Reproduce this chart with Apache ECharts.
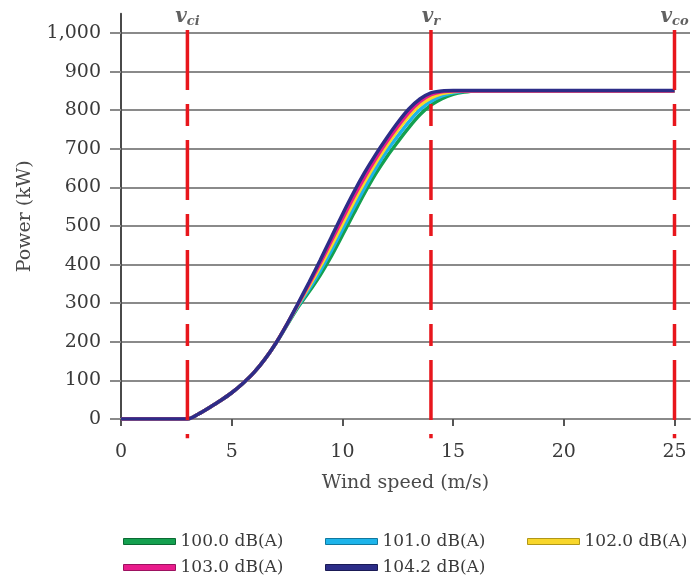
<!DOCTYPE html>
<html>
<head>
<meta charset="utf-8">
<title>Power curve</title>
<script src="https://cdn.jsdelivr.net/npm/echarts@6/dist/echarts.min.js"></script>
<style>
  html, body { margin: 0; padding: 0; background: #ffffff; }
  #powerChart { width: 694px; height: 579px; }
</style>
</head>
<body>
<div id="powerChart"></div>
<script>
/*** data ***/
var windSpeed = [0, 1, 2, 3, 3.5, 4, 4.5, 5, 5.5, 6, 6.5, 7, 7.5, 8, 8.5, 9, 9.5, 10, 10.5, 11, 11.5, 12, 12.5, 13, 13.5, 14, 14.5, 15, 15.5, 16, 17, 18, 19, 20, 21, 22, 23, 24, 25];

var power1000 = [0, 0, 0, 0, 13, 30, 48, 68, 92, 120, 155, 196, 243, 290, 330, 373, 422, 476, 531, 585, 635, 679, 718, 755, 788, 813, 830, 841, 847, 850, 850, 850, 850, 850, 850, 850, 850, 850, 850];
var power1010 = [0, 0, 0, 0, 13, 30, 48, 68, 92, 120, 155, 197, 245, 293, 337, 384, 436, 491, 546, 599, 649, 694, 733, 770, 801, 823, 837, 845, 849, 850, 850, 850, 850, 850, 850, 850, 850, 850, 850];
var power1020 = [0, 0, 0, 0, 13, 30, 48, 68, 92, 120, 155, 197, 246, 296, 344, 395, 449, 505, 561, 614, 663, 708, 748, 784, 813, 832, 843, 848, 850, 850, 850, 850, 850, 850, 850, 850, 850, 850, 850];
var power1030 = [0, 0, 0, 0, 13, 30, 48, 68, 92, 120, 155, 197, 246, 298, 350, 404, 461, 518, 574, 626, 674, 718, 758, 794, 822, 840, 848, 850, 850, 850, 850, 850, 850, 850, 850, 850, 850, 850, 850];
var power1042 = [0, 0, 0, 0, 13, 30, 48, 68, 92, 120, 155, 197, 246, 300, 355, 412, 471, 530, 586, 638, 685, 728, 768, 803, 829, 845, 850, 851, 851, 851, 851, 851, 851, 851, 851, 851, 851, 851, 851];

var seriesNames = ['100.0 dB(A)', '101.0 dB(A)', '102.0 dB(A)', '103.0 dB(A)', '104.2 dB(A)'];
var seriesValues = [power1000, power1010, power1020, power1030, power1042];

var xTicks = [0, 5, 10, 15, 20, 25];
var yTicks = [0, 100, 200, 300, 400, 500, 600, 700, 800, 900, 1000];
var yTickLabels = ['0', '100', '200', '300', '400', '500', '600', '700', '800', '900', '1,000'];

// cut-in, rated, cut-out speeds
var markSpeeds = [3, 14, 25];
var markSubs = ['ci', 'r', 'co'];

/*** styles ***/
var lineColors = ['#14a04f', '#1db4ea', '#f8d62a', '#e91c8c', '#2c2d88'];
var borderColors = ['#0b6a33', '#11789e', '#b09618', '#9d1260', '#1a1a55'];
var legendPos = [[123, 533], [325, 533], [527, 533], [123, 559], [325, 559]];
var serif = 'DejaVu Serif';

var myChart = echarts.init(document.getElementById('powerChart'), null, {renderer: 'canvas'});

function pairs(xs, ys) {
  var out = [];
  for (var i = 0; i < xs.length; i++) {
    out.push([xs[i], ys[i]]);
  }
  return out;
}

var series = [];
for (var i = 0; i < seriesNames.length; i++) {
  series.push({
    name: seriesNames[i],
    type: 'line',
    data: pairs(windSpeed, seriesValues[i]),
    showSymbol: false,
    symbol: 'none',
    smooth: 0.3,
    z: 2 + i,
    lineStyle: {color: lineColors[i], width: 3.5},
    itemStyle: {color: lineColors[i]}
  });
}

// red dashed verticals, drawn past the x axis
for (var k = 0; k < markSpeeds.length; k++) {
  series.push({
    name: 'mark' + k,
    type: 'line',
    data: [[markSpeeds[k], 1008], [markSpeeds[k], -50]],
    symbol: 'none',
    clip: false,
    silent: true,
    z: 10,
    lineStyle: {color: '#e8161c', width: 3.5, type: [60, 14, 22, 14]}
  });
}

// v labels above the lines
series.push({
  name: 'labels',
  type: 'scatter',
  symbolSize: 0,
  silent: true,
  clip: false,
  z: 11,
  data: markSpeeds.map(function (s, idx) { return {value: [s, 1041], sub: markSubs[idx]}; }),
  label: {
    show: true,
    position: 'inside',
    formatter: function (p) { return '{v|v}{s|' + p.data.sub + '}'; },
    rich: {
      v: {fontFamily: serif, fontStyle: 'italic', fontWeight: 'bold', fontSize: 20, color: '#3a3a3a', height: 24, verticalAlign: 'middle'},
      s: {fontFamily: serif, fontStyle: 'italic', fontWeight: 'bold', fontSize: 13, color: '#3a3a3a', height: 24, verticalAlign: 'bottom', padding: [8, 0, 0, 0]}
    }
  }
});

var legends = [];
for (var j = 0; j < seriesNames.length; j++) {
  legends.push({
    data: [{name: seriesNames[j], itemStyle: {borderColor: borderColors[j], borderWidth: 1}}],
    left: legendPos[j][0],
    top: legendPos[j][1],
    padding: 0,
    icon: 'rect',
    itemWidth: 52,
    itemHeight: 6,
    selectedMode: false,
    textStyle: {fontFamily: serif, fontSize: 17, color: '#3a3a3a'}
  });
}

var option = {
  backgroundColor: '#ffffff',
  animation: false,
  grid: {left: 121, right: 4, top: 13.7, bottom: 160},
  legend: legends,
  xAxis: {
    type: 'value',
    min: 0,
    max: 25.7,
    name: 'Wind speed (m/s)',
    nameLocation: 'middle',
    nameGap: 55,
    nameTextStyle: {fontFamily: serif, fontSize: 19, color: '#4a4a4a'},
    axisLine: {show: true, onZero: false, lineStyle: {color: '#8a8a8a', width: 2}},
    axisTick: {show: true, length: 7, customValues: xTicks, lineStyle: {color: '#555', width: 2}},
    axisLabel: {customValues: xTicks, margin: 24, fontFamily: serif, fontSize: 19, color: '#3a3a3a'},
    splitLine: {show: false}
  },
  yAxis: {
    type: 'value',
    min: 0,
    max: 1050,
    name: 'Power (kW)',
    nameLocation: 'middle',
    nameGap: 86,
    nameTextStyle: {fontFamily: serif, fontSize: 19, color: '#4a4a4a'},
    axisLine: {show: true, lineStyle: {color: '#4a4a4a', width: 2}},
    axisTick: {show: true, length: 11, customValues: yTicks, lineStyle: {color: '#8a8a8a', width: 2}},
    axisLabel: {
      customValues: yTicks,
      margin: 20,
      fontFamily: serif,
      fontSize: 19,
      color: '#3a3a3a',
      formatter: function (v) { return yTickLabels[yTicks.indexOf(v)]; }
    },
    splitLine: {show: true, lineStyle: {color: '#8a8a8a', width: 2}}
  },
  series: series
};

myChart.setOption(option);
</script>
</body>
</html>
